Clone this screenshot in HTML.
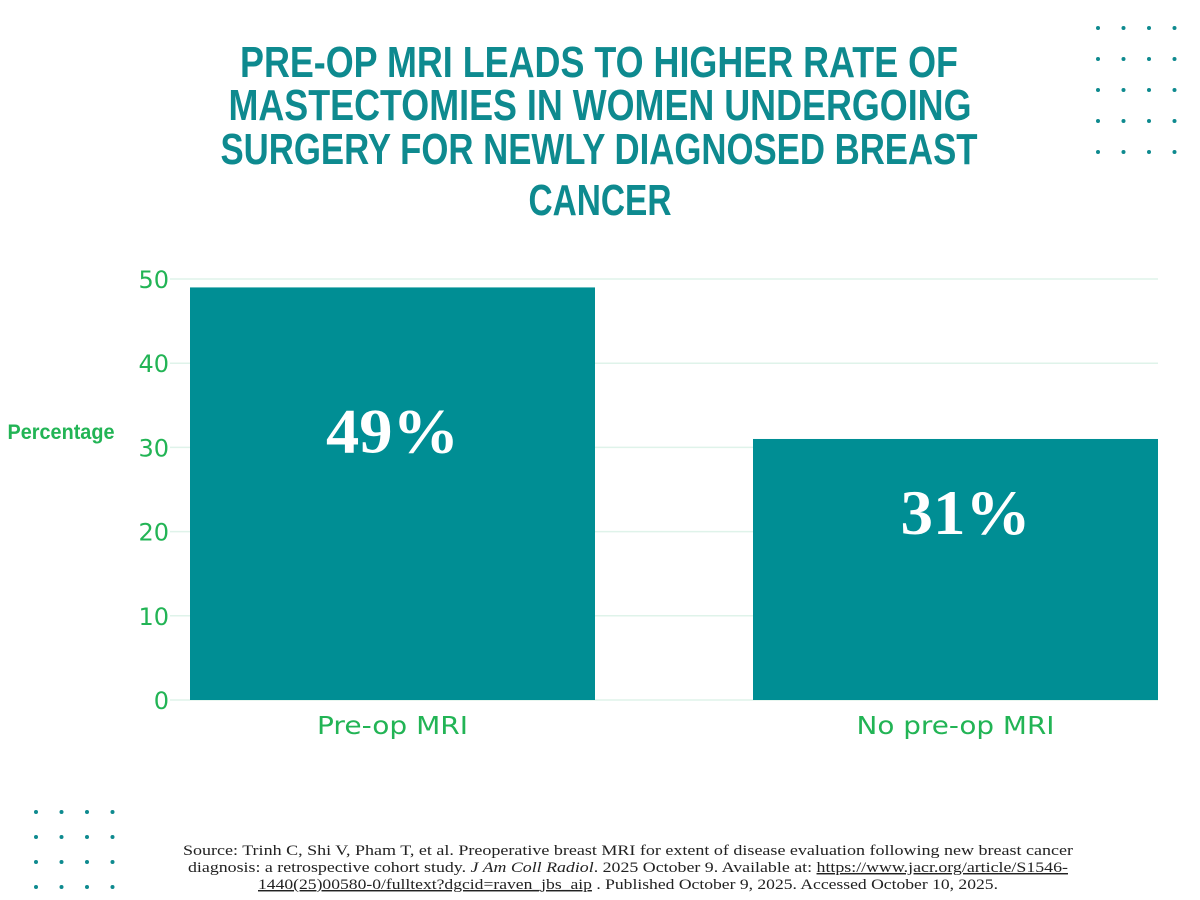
<!DOCTYPE html>
<html><head><meta charset="utf-8"><style>
body{margin:0;width:1200px;height:900px;background:#fff;overflow:hidden}
svg{display:block}
</style></head><body>
<svg width="1200" height="900" xmlns="http://www.w3.org/2000/svg">
<g fill="#0e8a8f" font-family="'Liberation Sans Narrow','Liberation Sans',sans-serif" font-weight="bold" font-size="44" text-anchor="middle">
<text x="599" y="77" textLength="718" lengthAdjust="spacingAndGlyphs">PRE-OP MRI LEADS TO HIGHER RATE OF</text>
<text x="600" y="120" textLength="743" lengthAdjust="spacingAndGlyphs">MASTECTOMIES IN WOMEN UNDERGOING</text>
<text x="599" y="164" textLength="757" lengthAdjust="spacingAndGlyphs">SURGERY FOR NEWLY DIAGNOSED BREAST</text>
<text x="600" y="215" textLength="143" lengthAdjust="spacingAndGlyphs">CANCER</text>
</g>
<g id="dots" fill="#0e8a8f"></g>
<g id="grid"></g>
<g id="yt"></g>
<g id="bars"></g>
<g id="xl"></g>
<text x="61" y="439" text-anchor="middle" fill="#22b455" font-family="'Liberation Sans Narrow','Liberation Sans',sans-serif" font-weight="bold" font-size="21" textLength="107" lengthAdjust="spacingAndGlyphs">Percentage</text>
<g font-family="'Liberation Serif',serif" font-size="14.5" fill="#222" text-anchor="middle">
<text x="628" y="855" textLength="890" lengthAdjust="spacingAndGlyphs">Source: Trinh C, Shi V, Pham T, et al. Preoperative breast MRI for extent of disease evaluation following new breast cancer</text>
<text x="628" y="872" textLength="880" lengthAdjust="spacingAndGlyphs">diagnosis: a retrospective cohort study. <tspan font-style="italic">J Am Coll Radiol</tspan>. 2025 October 9. Available at: <tspan text-decoration="underline">https://www.jacr.org/article/S1546-</tspan></text>
<text x="628" y="889" textLength="740" lengthAdjust="spacingAndGlyphs"><tspan text-decoration="underline">1440(25)00580-0/fulltext?dgcid=raven_jbs_aip</tspan> . Published October 9, 2025. Accessed October 10, 2025.</text>
</g>
</svg>
<script>
const categories=["Pre-op MRI","No pre-op MRI"];
const values=[49,31];
const valueLabels=["49%","31%"];
const ticks=[0,10,20,30,40,50];
const NS="http://www.w3.org/2000/svg";
const y0=700,yTop=279,yMax=50;
const y=v=>y0-(v/yMax)*(y0-yTop);
const bandL=190,barW=405;
const xb=i=>bandL+i*(563);
function mk(t,a,p){const e=document.createElementNS(NS,t);for(const k in a)e.setAttribute(k,a[k]);p.appendChild(e);return e;}
const grid=document.getElementById('grid'),yt=document.getElementById('yt'),bars=document.getElementById('bars'),xl=document.getElementById('xl'),dots=document.getElementById('dots');
ticks.forEach(t=>{
  const l=mk('line',{x1:170,x2:1158,y1:y(t),y2:y(t),stroke:'#dff3ea','stroke-width':1.5},grid);
  
  
  const tx=mk('text',{x:169,y:y(t)+9,'text-anchor':'end',fill:'#22b455','font-family':"'DejaVu Sans',sans-serif",'font-size':24},yt);
  tx.textContent=t;
  
  
});
values.forEach((v,i)=>{
  const x=xb(i);
  const r=mk('rect',{x:x,y:y(v),width:barW,height:y0-y(v),fill:'#008e94'},bars);
  
  
  const vt=mk('text',{x:x+barW/2+(i?10:0),y:y(v)+(i?95:165),'text-anchor':'middle',fill:'#fff','font-family':"'Liberation Serif',serif",'font-weight':'bold','font-size':64,textLength:(i?130:133),lengthAdjust:'spacingAndGlyphs'},bars);
  vt.textContent=valueLabels[i];
  
  
  const ct=mk('text',{x:x+barW/2,y:734,'text-anchor':'middle',fill:'#22b455','font-family':"'DejaVu Sans',sans-serif",'font-size':25,textLength:(i?198:151),lengthAdjust:'spacingAndGlyphs'},xl);
  ct.textContent=categories[i];
  
  
});
for(let r=0;r<5;r++)for(let c=0;c<4;c++){const d=mk('circle',{cx:1098+c*25.5,cy:28+r*31,r:2},dots);}
for(let r=0;r<4;r++)for(let c=0;c<4;c++){const d=mk('circle',{cx:36+c*25.5,cy:812+r*25,r:2},dots);}
</script>
</body></html>
